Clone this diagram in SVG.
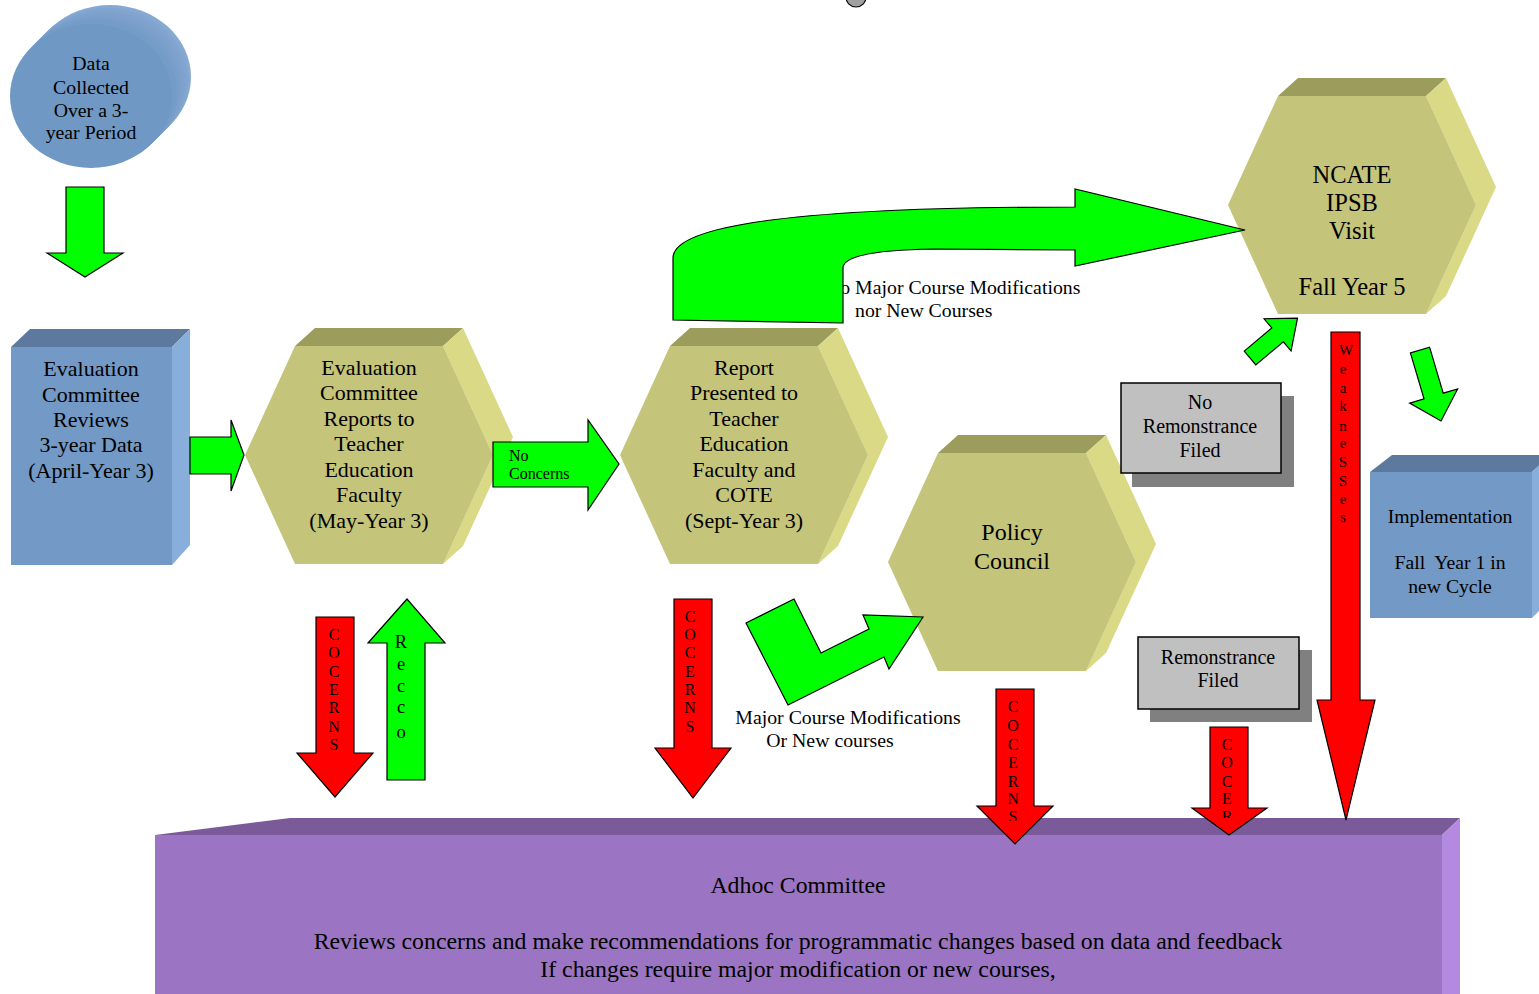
<svg xmlns="http://www.w3.org/2000/svg" width="1539" height="994" viewBox="0 0 1539 994">
<style>
text{font-family:"Liberation Serif","Times New Roman",serif}
.t{fill:#000;text-anchor:middle}
.l{text-anchor:start}
.red{fill:#FF0000;stroke:#000;stroke-width:1.2}
.grn{fill:#00FF00;stroke:#000;stroke-width:1.2}
.hf{fill:#C4C47A}.ht{fill:#9C9C5C}.hs{fill:#D9D986}
.bf{fill:#7399C6}.bt{fill:#5D7A9E}.bs{fill:#88AEDC}
.gray{fill:#C0C0C0;stroke:#000;stroke-width:1.5}
.shadow{fill:#808080}
</style>
<defs>
<g id="hex">
<polygon class="ht" points="50,-109 70,-127 218,-127 198,-109"/>
<polygon class="hs" points="198,-109 218,-127 268,-18 218,91 198,109 248,0"/>
<polygon class="hf" points="0,0 50,-109 198,-109 248,0 198,109 50,109"/>
</g>
<clipPath id="c3"><rect x="990" y="690" width="50" height="131"/></clipPath>
<clipPath id="c4"><rect x="1205" y="727" width="50" height="91"/></clipPath>
</defs>
<rect width="1539" height="994" fill="#fff"/>
<circle cx="856" cy="-3" r="10" fill="#A0A0A0" stroke="#000" stroke-width="1.2"/>

<g id="node-data">
<ellipse cx="110" cy="77" rx="81" ry="72" fill="#86A9D4"/>
<ellipse cx="107" cy="80" rx="81" ry="72" fill="#82A5D0"/>
<ellipse cx="104" cy="83" rx="81" ry="72" fill="#7EA2CD"/>
<ellipse cx="101" cy="86" rx="81" ry="72" fill="#7BA0CB"/>
<ellipse cx="98" cy="89" rx="81" ry="72" fill="#789DC9"/>
<ellipse cx="95" cy="92" rx="81" ry="72" fill="#759BC7"/>
<ellipse cx="91" cy="96" rx="81" ry="72" fill="#7098C4"/>
<text class="t" font-size="19.8"><tspan x="91" y="70">Data</tspan><tspan x="91" y="94">Collected</tspan><tspan x="91" y="117">Over a 3-</tspan><tspan x="91" y="139">year Period</tspan></text>
</g>

<g id="node-eval">
<polygon class="bt" points="11,347 30,329 190,329 172,347"/>
<polygon class="bs" points="172,347 190,329 190,545 172,565"/>
<rect class="bf" x="11" y="347" width="161" height="218"/>
<text class="t" font-size="22"><tspan x="91" y="376">Evaluation</tspan><tspan x="91" y="402">Committee</tspan><tspan x="91" y="427">Reviews</tspan><tspan x="91" y="452">3-year Data</tspan><tspan x="91" y="478">(April-Year 3)</tspan></text>
</g>

<g id="node-hex1">
<use href="#hex" transform="translate(245,455)"/>
<text class="t" font-size="22"><tspan x="369" y="375">Evaluation</tspan><tspan x="369" y="400">Committee</tspan><tspan x="369" y="426">Reports to</tspan><tspan x="369" y="451">Teacher</tspan><tspan x="369" y="477">Education</tspan><tspan x="369" y="502">Faculty</tspan><tspan x="369" y="528">(May-Year 3)</tspan></text>
</g>

<g id="node-hex2">
<use href="#hex" transform="translate(620,455)"/>
<text class="t" font-size="22"><tspan x="744" y="375">Report</tspan><tspan x="744" y="400">Presented to</tspan><tspan x="744" y="426">Teacher</tspan><tspan x="744" y="451">Education</tspan><tspan x="744" y="477">Faculty and</tspan><tspan x="744" y="502">COTE</tspan><tspan x="744" y="528">(Sept-Year 3)</tspan></text>
</g>

<g id="node-policy">
<use href="#hex" transform="translate(888,562)"/>
<text class="t" font-size="24"><tspan x="1012" y="540">Policy</tspan><tspan x="1012" y="569">Council</tspan></text>
</g>

<g id="node-ncate">
<use href="#hex" transform="translate(1228,205)"/>
<text class="t" font-size="24.5"><tspan x="1352" y="183">NCATE</tspan><tspan x="1352" y="211">IPSB</tspan><tspan x="1352" y="239">Visit</tspan><tspan x="1352" y="295">Fall Year 5</tspan></text>
</g>

<g id="node-impl">
<polygon class="bt" points="1370,472 1392,455 1550,455 1532,472"/>
<polygon class="bs" points="1532,472 1550,455 1550,600 1532,618"/>
<rect class="bf" x="1370" y="472" width="162" height="146"/>
<text class="t" font-size="19.7"><tspan x="1450" y="523">Implementation</tspan><tspan x="1450" y="569" xml:space="preserve">Fall  Year 1 in</tspan><tspan x="1450" y="593">new Cycle</tspan></text>
</g>

<g id="node-noremon">
<rect class="shadow" x="1132" y="396" width="162" height="91"/>
<rect class="gray" x="1121" y="383" width="160" height="90"/>
<text class="t" font-size="20"><tspan x="1200" y="409">No</tspan><tspan x="1200" y="433">Remonstrance</tspan><tspan x="1200" y="457">Filed</tspan></text>
</g>

<g id="node-remon">
<rect class="shadow" x="1150" y="650" width="162" height="72"/>
<rect class="gray" x="1138" y="637" width="161" height="72"/>
<text class="t" font-size="20"><tspan x="1218" y="664">Remonstrance</tspan><tspan x="1218" y="687">Filed</tspan></text>
</g>

<g id="node-adhoc">
<polygon points="155,835 290,818 1460,818 1442,835" fill="#7A5A99"/>
<polygon points="1442,835 1460,818 1460,994 1442,994" fill="#B48AE0"/>
<rect x="155" y="835" width="1287" height="160" fill="#9B75C3"/>
<text class="t" font-size="23.8"><tspan x="798" y="893">Adhoc Committee</tspan><tspan x="798" y="949">Reviews concerns and make recommendations for programmatic changes based on data and feedback</tspan><tspan x="798" y="977">If changes require major modification or new courses,</tspan></text>
</g>

<g id="connectors">
<polygon class="grn" points="66,187 104,187 104,253 123,253 85,277 47,253 66,253"/>
<polygon class="grn" points="190,437 231,437 231,420 244,455 231,491 231,474 190,474"/>
<polygon class="grn" points="493,442 588,442 588,420 619,464 588,510 588,487 493,487"/>
<text class="t l" font-size="16"><tspan x="509" y="461">No</tspan><tspan x="509" y="479">Concerns</tspan></text>

<polygon class="red" points="316,617 354,617 354,753 373,753 335,797 297,753 316,753"/>
<text class="t" font-size="16"><tspan x="334" y="640">C</tspan><tspan x="334" y="658">O</tspan><tspan x="334" y="677">C</tspan><tspan x="334" y="695">E</tspan><tspan x="334" y="713">R</tspan><tspan x="334" y="732">N</tspan><tspan x="334" y="750">S</tspan></text>

<polygon class="grn" points="387,780 425,780 425,643 445,643 407,599 368,643 387,643"/>
<text class="t" font-size="18.5"><tspan x="401" y="648">R</tspan><tspan x="401" y="670">e</tspan><tspan x="401" y="692">c</tspan><tspan x="401" y="713">c</tspan><tspan x="401" y="738">o</tspan></text>

<polygon class="red" points="674,599 712,599 712,748 731,748 693,798 655,748 674,748"/>
<text class="t" font-size="16"><tspan x="690" y="622">C</tspan><tspan x="690" y="640">O</tspan><tspan x="690" y="658">C</tspan><tspan x="690" y="677">E</tspan><tspan x="690" y="695">R</tspan><tspan x="690" y="713">N</tspan><tspan x="690" y="732">S</tspan></text>

<text class="t" font-size="19.8"><tspan x="848" y="724">Major Course Modifications</tspan><tspan x="830" y="747">Or New courses</tspan></text>
<polygon class="grn" points="746,623 794,599 821,653 869,629 863,615 923,617 889,669 884,657 788,705"/>

<polygon class="red" points="996,689 1034,689 1034,806 1053,806 1015,844 977,806 996,806"/>
<text class="t" font-size="16" clip-path="url(#c3)"><tspan x="1013" y="712">C</tspan><tspan x="1013" y="731">O</tspan><tspan x="1013" y="750">C</tspan><tspan x="1013" y="768">E</tspan><tspan x="1013" y="787">R</tspan><tspan x="1013" y="804">N</tspan><tspan x="1013" y="822">S</tspan></text>

<polygon class="red" points="1210,727 1248,727 1248,808 1267,808 1229,835 1192,808 1210,808"/>
<text class="t" font-size="16" clip-path="url(#c4)"><tspan x="1227" y="750">C</tspan><tspan x="1227" y="768">O</tspan><tspan x="1227" y="787">C</tspan><tspan x="1227" y="804">E</tspan><tspan x="1227" y="822">R</tspan></text>

<polygon class="red" points="1331,332 1360,332 1360,700 1375,700 1346,820 1317,700 1331,700"/>
<text class="t" font-size="15"><tspan x="1346" y="355">W</tspan><tspan x="1343" y="374">e</tspan><tspan x="1343" y="393">a</tspan><tspan x="1343" y="411">k</tspan><tspan x="1343" y="431">n</tspan><tspan x="1343" y="448">e</tspan><tspan x="1343" y="467">S</tspan><tspan x="1343" y="486">S</tspan><tspan x="1343" y="504">e</tspan><tspan x="1343" y="522">s</tspan></text>

<text class="t l" font-size="19.8"><tspan x="826" y="294">No Major Course Modifications</tspan><tspan x="855" y="317">nor New Courses</tspan></text>
<path class="grn" d="M673,320 L673,258 C673,226 790,207 1075,207 L1075,189 L1245,230 L1075,266 L1075,250 L935,249 C870,250 843,257 843,268 L843,323 Z"/>

<polygon class="grn" transform="translate(1250,358) rotate(-40)" points="0,-9 36,-9 36,-21 62,0 36,21 36,9 0,9"/>
<polygon class="grn" transform="translate(1420,350) rotate(73.5)" points="0,-10 48,-10 48,-25 74,0 48,25 48,10 0,10"/>
</g>
</svg>
